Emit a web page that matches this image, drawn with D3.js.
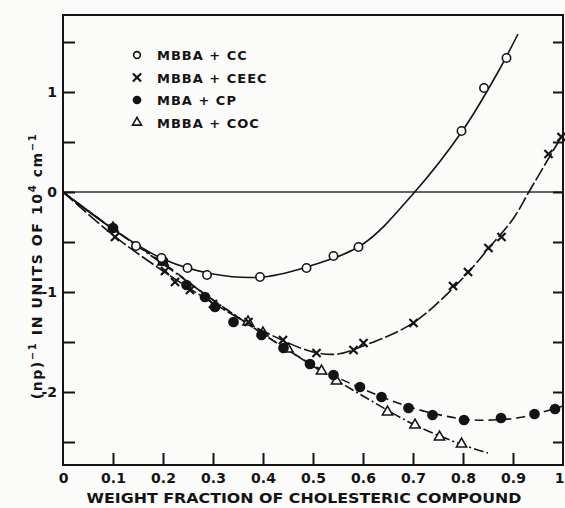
<!DOCTYPE html>
<meta charset="utf-8">
<style>
body { margin: 0; background: #fbfbf9; }
svg { display: block; }
text { font-family: "DejaVu Sans", sans-serif; font-weight: bold; fill: #141414; }
.frame { fill: none; stroke: #141414; stroke-width: 2; }
.axis path { display: none; }
.axis line { stroke: #141414; stroke-width: 2; }
.zero { stroke: #333; stroke-width: 1.3; }
.fit { fill: none; stroke: #141414; stroke-width: 1.6; }
</style>
<svg width="565" height="508"></svg>
<script src="https://d3js.org/d3.v7.min.js"></script>
<script>

// tick values
var xTicks = [0, 0.1, 0.2, 0.3, 0.4, 0.5, 0.6, 0.7, 0.8, 0.9, 1.0];
var yTicks = [-2.5, -2, -1.5, -1, -0.5, 0, 0.5, 1, 1.5];

// MBBA + CC (open circles)
var ccX = [0.146, 0.197, 0.249, 0.288, 0.394, 0.487, 0.541, 0.591, 0.797, 0.842, 0.887];
var ccY = [-0.54, -0.66, -0.76, -0.83, -0.85, -0.76, -0.64, -0.55, 0.61, 1.04, 1.34];
var ccFit = [[0,0],[0.1,-0.37],[0.2,-0.67],[0.3,-0.82],[0.4,-0.85],[0.5,-0.73],[0.6,-0.52],[0.7,-0.02],[0.8,0.62],[0.87,1.2],[0.91,1.58]];

// MBBA + CEEC (crosses)
var ceecX = [0.104, 0.204, 0.224, 0.254, 0.30, 0.371, 0.44, 0.507, 0.581, 0.601, 0.701, 0.78, 0.81, 0.851, 0.877, 0.971, 0.997];
var ceecY = [-0.45, -0.79, -0.90, -0.98, -1.12, -1.30, -1.48, -1.61, -1.58, -1.51, -1.31, -0.94, -0.80, -0.56, -0.45, 0.38, 0.55];
var ceecFit = [[0,0],[0.1,-0.43],[0.2,-0.79],[0.3,-1.11],[0.4,-1.39],[0.5,-1.60],[0.55,-1.62],[0.6,-1.54],[0.7,-1.31],[0.8,-0.86],[0.85,-0.57],[0.9,-0.27],[0.934,0.02],[1.0,0.58]];

// MBA + CP (filled circles)
var cpX = [0.10, 0.20, 0.247, 0.284, 0.304, 0.341, 0.397, 0.441, 0.494, 0.541, 0.594, 0.637, 0.691, 0.739, 0.802, 0.876, 0.943, 0.984];
var cpY = [-0.36, -0.69, -0.93, -1.05, -1.15, -1.30, -1.43, -1.56, -1.72, -1.83, -1.95, -2.05, -2.16, -2.23, -2.28, -2.26, -2.22, -2.17];
var cpFit = [[0,0],[0.1,-0.37],[0.2,-0.71],[0.3,-1.08],[0.4,-1.42],[0.5,-1.73],[0.6,-1.97],[0.7,-2.16],[0.8,-2.27],[0.86,-2.28],[0.92,-2.25],[1.0,-2.14]];

// MBBA + COC (triangles)
var cocX = [0.10, 0.20, 0.37, 0.40, 0.45, 0.517, 0.547, 0.649, 0.704, 0.753, 0.797];
var cocY = [-0.36, -0.70, -1.30, -1.41, -1.57, -1.79, -1.89, -2.20, -2.33, -2.45, -2.52];
var cocFit = [[0,0],[0.1,-0.37],[0.2,-0.72],[0.3,-1.08],[0.4,-1.42],[0.5,-1.74],[0.6,-2.04],[0.7,-2.32],[0.8,-2.53],[0.85,-2.61]];

var legendNames = ["MBBA + CC", "MBBA + CEEC", "MBA + CP", "MBBA + COC"];

var svg = d3.select("svg");

var x = d3.scaleLinear().domain([0, 1]).range([63, 563]);
var y = d3.scaleLinear().domain([-2.73, 1.77]).range([465, 15]);

// frame
svg.append("rect").attr("class", "frame")
  .attr("x", x(0)).attr("y", y(1.77))
  .attr("width", x(1) - x(0)).attr("height", y(-2.73) - y(1.77));

svg.append("line").attr("class", "zero")
  .attr("x1", x(0)).attr("x2", x(1)).attr("y1", y(0)).attr("y2", y(0));

// axes, ticks pointing inward
var yLeft = svg.append("g").attr("class", "axis")
  .attr("transform", "translate(" + x(0) + ",0)")
  .call(d3.axisLeft(y).tickValues(yTicks).tickSize(-12).tickPadding(6)
    .tickFormat(function(d) { return Number.isInteger(d) ? String(d) : ""; }));
yLeft.selectAll("text").style("font-size", "14px");

svg.append("g").attr("class", "axis")
  .attr("transform", "translate(" + x(1) + ",0)")
  .call(d3.axisRight(y).tickValues(yTicks).tickSize(-10).tickFormat(""));

var xBottom = svg.append("g").attr("class", "axis")
  .attr("transform", "translate(0," + y(-2.73) + ")")
  .call(d3.axisBottom(x).tickValues(xTicks).tickSize(-12).tickPadding(8)
    .tickFormat(function(d) { return d === 0 ? "0" : d === 1 ? "1" : d3.format(".1f")(d); }));
xBottom.selectAll("text").style("font-size", "14px");
xBottom.selectAll(".tick").filter(function(d) { return d === 0 || d === 1; }).select("line").remove();
// last label sits right at the page edge
xBottom.selectAll(".tick").filter(function(d) { return d === 1; }).select("text")
  .attr("text-anchor", "end").attr("x", 1);

// axis titles
svg.append("text")
  .attr("x", 304).attr("y", 503)
  .attr("text-anchor", "middle")
  .attr("textLength", 435).attr("lengthAdjust", "spacingAndGlyphs")
  .style("font-size", "14px")
  .text("WEIGHT FRACTION OF CHOLESTERIC COMPOUND");

var yt = svg.append("text")
  .attr("transform", "translate(42,266) rotate(-90)")
  .attr("text-anchor", "middle")
  .style("font-size", "14px")
  .style("letter-spacing", "1.6px");
yt.append("tspan").text("(np)");
yt.append("tspan").attr("dy", -6).style("font-size", "10px").text("−1");
yt.append("tspan").attr("dy", 6).text("  IN  UNITS  OF  10");
yt.append("tspan").attr("dy", -6).style("font-size", "10px").text("4");
yt.append("tspan").attr("dy", 6).text(" cm");
yt.append("tspan").attr("dy", -6).style("font-size", "10px").text("−1");

// fitted curves
var line = d3.line()
  .x(function(d) { return x(d[0]); })
  .y(function(d) { return y(d[1]); })
  .curve(d3.curveCatmullRom);

svg.append("path").attr("class", "fit").attr("d", line(ccFit));
svg.append("path").attr("class", "fit").attr("d", line(ceecFit)).attr("stroke-dasharray", "14,3");
svg.append("path").attr("class", "fit").attr("d", line(cpFit)).attr("stroke-dasharray", "9,5");
svg.append("path").attr("class", "fit").attr("d", line(cocFit)).attr("stroke-dasharray", "10,3,2,3");

// markers
function drawMarks(xs, ys, kind) {
  var pts = xs.map(function(v, i) { return [v, ys[i]]; });
  var sel = svg.append("g").selectAll("path").data(pts).enter().append("path")
    .attr("transform", function(d) { return "translate(" + x(d[0]) + "," + y(d[1]) + ")"; });
  styleMark(sel, kind);
}

function styleMark(sel, kind) {
  if (kind === "open") {
    sel.attr("d", d3.symbol(d3.symbolCircle, 55)).attr("fill", "#fbfbf9").attr("stroke", "#141414").attr("stroke-width", 1.6);
  } else if (kind === "cross") {
    sel.attr("d", d3.symbol(d3.symbolX, 45)).attr("fill", "none").attr("stroke", "#141414").attr("stroke-width", 2.2);
  } else if (kind === "filled") {
    sel.attr("d", d3.symbol(d3.symbolCircle, 90)).attr("fill", "#141414");
  } else {
    sel.attr("d", d3.symbol(d3.symbolTriangle, 45)).attr("fill", "#fbfbf9").attr("stroke", "#141414").attr("stroke-width", 1.6);
  }
}

drawMarks(cocX, cocY, "tri");
drawMarks(cpX, cpY, "filled");
drawMarks(ceecX, ceecY, "cross");
drawMarks(ccX, ccY, "open");

// legend
var kinds = ["open", "cross", "filled", "tri"];
var legend = svg.append("g").selectAll("g").data(legendNames).enter().append("g")
  .attr("transform", function(d, i) { return "translate(137," + (55 + i * 22.5) + ")"; });
legend.each(function(d, i) {
  var g = d3.select(this);
  var m = g.append("path");
  styleMark(m, kinds[i]);
  if (kinds[i] === "open") m.attr("d", d3.symbol(d3.symbolCircle, 35));
  if (kinds[i] === "filled") m.attr("d", d3.symbol(d3.symbolCircle, 60));
  if (kinds[i] === "tri") m.attr("d", d3.symbol(d3.symbolTriangle, 35));
  g.append("text").attr("x", 20).attr("y", 5)
    .style("font-size", "13px").style("letter-spacing", "1px")
    .text(d);
});

</script>
